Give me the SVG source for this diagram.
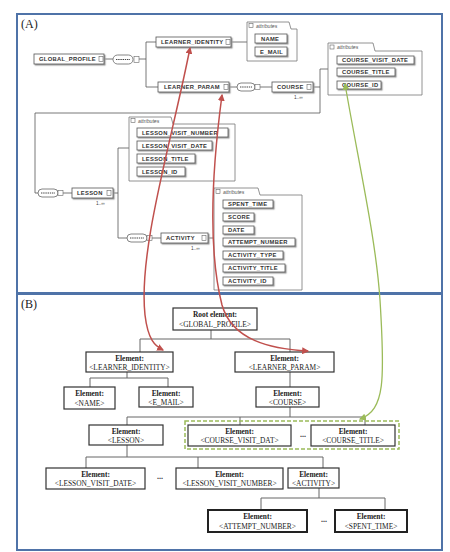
<svg xmlns="http://www.w3.org/2000/svg" width="450" height="552" viewBox="0 0 450 552">
<style>
.frame{fill:none;stroke:#4f73a8;stroke-width:2}
.pl{font-family:"Liberation Serif",serif;font-size:12px;fill:#222}
.xb{fill:#fff;stroke:#555;stroke-width:0.8}
.ic{fill:#fff;stroke:#666;stroke-width:0.6}
.xt{font-family:"Liberation Sans",Arial,sans-serif;font-weight:bold;font-size:5.8px;letter-spacing:0.3px;fill:#333}
.at{font-family:"Liberation Sans",Arial,sans-serif;font-style:italic;font-size:5.2px;fill:#555}
.mul{font-family:"Liberation Sans",Arial,sans-serif;font-size:4.8px;fill:#444}
.af{fill:#fff;stroke:#777;stroke-width:0.8}
.ln{fill:none;stroke:#555;stroke-width:0.8}
.ov{fill:#fff;stroke:#666;stroke-width:0.8}
.dl{stroke:#444;stroke-width:1;stroke-dasharray:1.4 0.8}
.bx{fill:#fff;stroke:#333;stroke-width:1.2}
.bx2{fill:#fff;stroke:#222;stroke-width:2}
.b1{font-family:"Liberation Serif",serif;font-weight:bold;font-size:7.4px;fill:#222;text-anchor:middle}
.b2{font-family:"Liberation Serif",serif;font-size:7.4px;fill:#222;text-anchor:middle}
.cn{fill:none;stroke:#666;stroke-width:1}
.dots{font-family:"Liberation Serif",serif;font-weight:bold;font-size:8px;fill:#333;text-anchor:middle}
.red{fill:none;stroke:#c0504d;stroke-width:1.5}
.grn{fill:none;stroke:#9bbb59;stroke-width:1.3}
</style>
<defs>
<filter id="sh" x="-10%" y="-30%" width="130%" height="170%"><feDropShadow dx="1.2" dy="1.2" stdDeviation="0.3" flood-color="#999"/></filter>
<marker id="ar" viewBox="0 0 6 6" refX="5" refY="3" markerWidth="7" markerHeight="7" markerUnits="userSpaceOnUse" orient="auto-start-reverse"><path d="M0,0 L6,3 L0,6 z" fill="#c0504d"/></marker>
<marker id="ag" viewBox="0 0 6 6" refX="5" refY="3" markerWidth="7" markerHeight="7" markerUnits="userSpaceOnUse" orient="auto-start-reverse"><path d="M0,0 L6,3 L0,6 z" fill="#9bbb59"/></marker>
</defs>
<rect width="450" height="552" fill="#fff"/>
<rect class="frame" x="17" y="14" width="425" height="279"/>
<rect class="frame" x="17" y="294" width="425" height="256"/>
<text class="pl" x="21" y="28">(A)</text>
<text class="pl" x="21" y="308">(B)</text>

<!-- Panel A connectors -->
<g id="a-connectors">
<path class="ln" d="M104,59 H113 M139,59 H146 M146,42 V87 M146,42 H156 M146,87 H158"/>
<path class="ln" d="M231,42 H247"/>
<path class="ln" d="M229,87 H237 M260,87 H272"/>
<path class="ln" d="M313,87 H320 M320,69 V113 M320,69 H328 M320,113 H35 V193 H38"/>
<path class="ln" d="M63,193 H72 M113,193 H118 M118,148 V238 M118,148 H129 M118,238 H127 M152,238 H161 M208,238 H214"/>
</g>

<!-- Panel A nodes -->
<g id="a-global-profile">
<rect class="xb" x="34" y="54" width="70" height="10" filter="url(#sh)"/>
<text class="xt" x="39" y="61.2">GLOBAL_PROFILE</text>
<rect class="ic" x="99" y="56.5" width="4" height="5"/>
</g>
<g id="a-seq1">
<rect class="ov" x="113" y="55" width="20" height="9" rx="4.5"/>
<line class="dl" x1="116" y1="59.5" x2="130" y2="59.5"/>
<rect class="ic" x="134" y="56.5" width="5" height="6"/>
</g>
<g id="a-learner-identity">
<rect class="xb" x="156" y="37" width="75" height="10" filter="url(#sh)"/>
<text class="xt" x="161" y="44.2">LEARNER_IDENTITY</text>
<rect class="ic" x="226" y="39.5" width="4" height="5"/>
</g>
<g id="a-li-attributes">
<path class="af" d="M247,22 H289 L291,29 H297 V61 H247 Z"/>
<rect class="ic" x="249" y="23.5" width="4" height="4"/>
<text class="at" x="256" y="27.6">attributes</text>
<rect class="xb" x="255" y="34" width="32" height="9" filter="url(#sh)"/>
<text class="xt" x="261" y="40.6">NAME</text>
<rect class="xb" x="255" y="47" width="32" height="9" filter="url(#sh)"/>
<text class="xt" x="260" y="53.6">E_MAIL</text>
</g>
<g id="a-learner-param">
<rect class="xb" x="158" y="82" width="71" height="10" filter="url(#sh)"/>
<text class="xt" x="164" y="89.2">LEARNER_PARAM</text>
<rect class="ic" x="224" y="84.5" width="4" height="5"/>
</g>
<g id="a-seq2">
<rect class="ov" x="237" y="83" width="18" height="8" rx="4"/>
<line class="dl" x1="240" y1="87" x2="252" y2="87"/>
<rect class="ic" x="255" y="84.5" width="5" height="5"/>
</g>
<g id="a-course">
<rect class="xb" x="272" y="82" width="41" height="10" filter="url(#sh)"/>
<text class="xt" x="277" y="89.2">COURSE</text>
<rect class="ic" x="307" y="84.5" width="4" height="5"/>
<text class="mul" x="294" y="99">1..∞</text>
</g>
<g id="a-course-attributes">
<path class="af" d="M328,43 H373 L375,51 H422 V95 H328 Z"/>
<rect class="ic" x="330" y="45" width="4" height="4"/>
<text class="at" x="337" y="49">attributes</text>
<rect class="xb" x="337" y="56" width="77" height="8" filter="url(#sh)"/>
<text class="xt" x="342" y="62.2">COURSE_VISIT_DATE</text>
<rect class="xb" x="337" y="68" width="58" height="8" filter="url(#sh)"/>
<text class="xt" x="342" y="74.2">COURSE_TITLE</text>
<rect class="xb" x="337" y="81" width="44" height="8" filter="url(#sh)"/>
<text class="xt" x="342" y="87.2">COURSE_ID</text>
</g>
<g id="a-lesson-attributes">
<path class="af" d="M129,117 H171 L173,124 H235 V181 H129 Z"/>
<rect class="ic" x="131" y="118.5" width="4" height="4"/>
<text class="at" x="138" y="122.6">attributes</text>
<rect class="xb" x="137" y="128" width="91" height="9" filter="url(#sh)"/>
<text class="xt" x="142" y="134.6">LESSON_VISIT_NUMBER</text>
<rect class="xb" x="137" y="141" width="75" height="9" filter="url(#sh)"/>
<text class="xt" x="142" y="147.6">LESSON_VISIT_DATE</text>
<rect class="xb" x="137" y="154" width="58" height="9" filter="url(#sh)"/>
<text class="xt" x="142" y="160.6">LESSON_TITLE</text>
<rect class="xb" x="137" y="167" width="48" height="9" filter="url(#sh)"/>
<text class="xt" x="142" y="173.6">LESSON_ID</text>
</g>
<g id="a-seq3">
<rect class="ov" x="38" y="189" width="20" height="8" rx="4"/>
<line class="dl" x1="41" y1="193" x2="55" y2="193"/>
<rect class="ic" x="58" y="190.5" width="5" height="5"/>
</g>
<g id="a-lesson">
<rect class="xb" x="72" y="188" width="41" height="10" filter="url(#sh)"/>
<text class="xt" x="77" y="195.2">LESSON</text>
<rect class="ic" x="107" y="190.5" width="4" height="5"/>
<text class="mul" x="96" y="205">1..∞</text>
</g>
<g id="a-seq4">
<rect class="ov" x="127" y="234" width="20" height="8" rx="4"/>
<line class="dl" x1="130" y1="238" x2="144" y2="238"/>
<rect class="ic" x="147" y="235.5" width="5" height="5"/>
</g>
<g id="a-activity">
<rect class="xb" x="161" y="233" width="47" height="10" filter="url(#sh)"/>
<text class="xt" x="166" y="240.2">ACTIVITY</text>
<rect class="ic" x="202" y="235.5" width="4" height="5"/>
<text class="mul" x="191" y="250">1..∞</text>
</g>
<g id="a-activity-attributes">
<path class="af" d="M214,188 H258 L260,195 H302 V290 H214 Z"/>
<rect class="ic" x="216" y="189.5" width="4" height="4"/>
<text class="at" x="223" y="193.6">attributes</text>
<rect class="xb" x="223" y="200" width="50" height="8" filter="url(#sh)"/>
<text class="xt" x="228" y="206.2">SPENT_TIME</text>
<rect class="xb" x="223" y="213" width="31" height="8" filter="url(#sh)"/>
<text class="xt" x="228" y="219.2">SCORE</text>
<rect class="xb" x="223" y="226" width="31" height="8" filter="url(#sh)"/>
<text class="xt" x="228" y="232.2">DATE</text>
<rect class="xb" x="223" y="238" width="72" height="8" filter="url(#sh)"/>
<text class="xt" x="228" y="244.2">ATTEMPT_NUMBER</text>
<rect class="xb" x="223" y="251" width="60" height="8" filter="url(#sh)"/>
<text class="xt" x="228" y="257.2">ACTIVITY_TYPE</text>
<rect class="xb" x="223" y="264" width="62" height="8" filter="url(#sh)"/>
<text class="xt" x="228" y="270.2">ACTIVITY_TITLE</text>
<rect class="xb" x="223" y="277" width="50" height="8" filter="url(#sh)"/>
<text class="xt" x="228" y="283.2">ACTIVITY_ID</text>
</g>

<!-- Panel B connectors -->
<g id="b-connectors">
<path class="cn" d="M211,330 V339 M140,339 H290 M140,339 V352 M290,339 V352"/>
<path class="cn" d="M127,372 V378 M90,378 H168 M90,378 V387 M168,378 V387"/>
<path class="cn" d="M290,372 V387"/>
<path class="cn" d="M290,407 V417 M127,417 H365 M127,417 V425 M240,417 V425 M365,417 V425"/>
<path class="cn" d="M127,445 V457 M86,457 H323 M86,457 V468 M198,457 V468 M323,457 V468"/>
<path class="cn" d="M319,488 V498 M261,498 H385 M261,498 V510 M385,498 V510"/>
</g>

<rect x="185" y="421" width="214" height="28" fill="none" stroke="#9bbb59" stroke-width="1.5" stroke-dasharray="4 2"/>

<!-- Panel B nodes -->
<g id="b-root">
<rect class="bx" x="173" y="308" width="84" height="22"/>
<text class="b1" x="215" y="317">Root element:</text>
<text class="b2" x="215" y="326.5">&lt;GLOBAL_PROFILE&gt;</text>
</g>
<g id="b-learner-identity">
<rect class="bx" x="86" y="352" width="87" height="20"/>
<text class="b1" x="129.5" y="360.5">Element:</text>
<text class="b2" x="129.5" y="369.5">&lt;LEARNER_IDENTITY&gt;</text>
</g>
<g id="b-learner-param">
<rect class="bx" x="235" y="352" width="99" height="20"/>
<text class="b1" x="284.5" y="360.5">Element:</text>
<text class="b2" x="284.5" y="369.5">&lt;LEARNER_PARAM&gt;</text>
</g>
<g id="b-name">
<rect class="bx" x="64" y="387" width="51" height="22"/>
<text class="b1" x="89.5" y="396">Element:</text>
<text class="b2" x="89.5" y="405.5">&lt;NAME&gt;</text>
</g>
<g id="b-email">
<rect class="bx" x="139" y="387" width="54" height="20"/>
<text class="b1" x="166" y="395.5">Element:</text>
<text class="b2" x="166" y="404.5">&lt;E_MAIL&gt;</text>
</g>
<g id="b-course">
<rect class="bx" x="256" y="387" width="63" height="20"/>
<text class="b1" x="287.5" y="395.5">Element:</text>
<text class="b2" x="287.5" y="404.5">&lt;COURSE&gt;</text>
</g>
<g id="b-lesson">
<rect class="bx" x="89" y="425" width="74" height="20"/>
<text class="b1" x="126" y="433.5">Element:</text>
<text class="b2" x="126" y="442.5">&lt;LESSON&gt;</text>
</g>
<g id="b-course-visit-dat">
<rect class="bx" x="188" y="425" width="103" height="21"/>
<text class="b1" x="239.5" y="433.5">Element:</text>
<text class="b2" x="239.5" y="443">&lt;COURSE_VISIT_DAT&gt;</text>
</g>
<text class="dots" x="303" y="437">...</text>
<g id="b-course-title">
<rect class="bx" x="311" y="425" width="84" height="21"/>
<text class="b1" x="353" y="433.5">Element:</text>
<text class="b2" x="353" y="443">&lt;COURSE_TITLE&gt;</text>
</g>
<g id="b-lesson-visit-date">
<rect class="bx" x="46" y="468" width="99" height="21"/>
<text class="b1" x="95.5" y="476.5">Element:</text>
<text class="b2" x="95.5" y="486">&lt;LESSON_VISIT_DATE&gt;</text>
</g>
<text class="dots" x="160" y="479">...</text>
<g id="b-lesson-visit-number">
<rect class="bx" x="176" y="468" width="107" height="21"/>
<text class="b1" x="229.5" y="476.5">Element:</text>
<text class="b2" x="229.5" y="486">&lt;LESSON_VISIT_NUMBER&gt;</text>
</g>
<g id="b-activity">
<rect class="bx" x="288" y="468" width="51" height="20"/>
<text class="b1" x="313.5" y="476.5">Element:</text>
<text class="b2" x="313.5" y="485.5">&lt;ACTIVITY&gt;</text>
</g>
<g id="b-attempt-number">
<rect class="bx2" x="208" y="510" width="99" height="22"/>
<text class="b1" x="257.5" y="519">Element:</text>
<text class="b2" x="257.5" y="528.5">&lt;ATTEMPT_NUMBER&gt;</text>
</g>
<text class="dots" x="324" y="522">...</text>
<g id="b-spent-time">
<rect class="bx2" x="335" y="510" width="72" height="22"/>
<text class="b1" x="371" y="519">Element:</text>
<text class="b2" x="371" y="528.5">&lt;SPENT_TIME&gt;</text>
</g>

<!-- Mapping arrows -->
<g id="mapping-arrows">
<path class="red" d="M190,48 C172,140 138,250 145,315 C148,340 155,346 163,350" marker-start="url(#ar)" marker-end="url(#ar)"/>
<path class="red" d="M222,95 C212,170 208,250 222,305 C232,340 270,349 308,351" marker-start="url(#ar)" marker-end="url(#ar)"/>
<path class="grn" d="M345,84 C360,170 376,240 380,300 C385,380 385,410 360,419" marker-start="url(#ag)" marker-end="url(#ag)"/>
</g>
</svg>
